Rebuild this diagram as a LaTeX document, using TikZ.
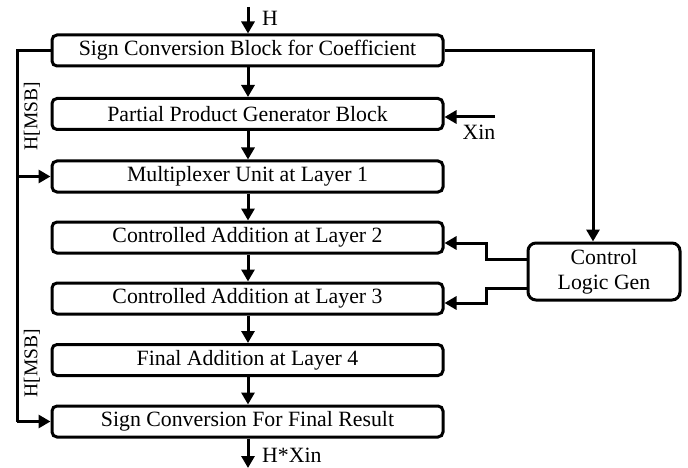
\documentclass[tikz,border=0pt]{standalone}
\usepackage{fontspec}
\setmainfont{Liberation Serif}
\usetikzlibrary{arrows.meta}
\begin{document}
\begin{tikzpicture}[x=1pt,y=-1pt,
  blk/.style={draw,line width=3pt,rounded corners=5pt,minimum width=391pt,minimum height=31pt,inner sep=0pt,font=\fontsize{21.8}{24}\selectfont},
  ctlbox/.style={draw,line width=3pt,rounded corners=8pt,minimum width=152pt,minimum height=57pt,inner sep=0pt,align=center,font=\fontsize{21.8}{25}\selectfont},
  wire/.style={line width=3pt},
  arr/.style={line width=3pt,-{Triangle[length=12pt,width=13pt]}},
  lbl/.style={font=\fontsize{21.8}{24}\selectfont,inner sep=0pt},
  slbl/.style={font=\fontsize{19.5}{22}\selectfont,inner sep=0pt}]
\useasboundingbox (0,0) rectangle (688,468);
\node[blk] (b1) at (247.5,50.5) {Sign Conversion Block for Coefficient};
\node[blk] (b2) at (247.5,114) {Partial Product Generator Block};
\node[blk] (b3) at (247.5,176.5) {Multiplexer Unit at Layer 1};
\node[blk] (b4) at (247.5,237.5) {Controlled Addition at Layer 2};
\node[blk] (b5) at (247.5,298.5) {Controlled Addition at Layer 3};
\node[blk] (b6) at (247.5,360) {Final Addition at Layer 4};
\node[blk] (b7) at (247.5,421.5) {Sign Conversion For Final Result};
\node[ctlbox] (ctl) at (604,271.5) {Control\\Logic Gen};
% input / output
\coordinate (tin) at (248,7);
\coordinate (tout) at (248,468);
\draw[arr] (tin) -- (b1.north -| tin);
\node[lbl,anchor=west] (hlab) at (262,18) {H};
\draw[arr] (b7.south -| tout) -- (tout);
\node[lbl,anchor=west] (olab) at (262,455) {H*Xin};
% vertical chain
\draw[arr] (b1.south -| tin) -- (b2.north -| tin);
\draw[arr] (b2.south -| tin) -- (b3.north -| tin);
\draw[arr] (b3.south -| tin) -- (b4.north -| tin);
\draw[arr] (b4.south -| tin) -- (b5.north -| tin);
\draw[arr] (b5.south -| tin) -- (b6.north -| tin);
\draw[arr] (b6.south -| tin) -- (b7.north -| tin);
% left feedback
\coordinate (L) at (17,50.5);
\draw[wire] (b1.west) -- (L) -- (L |- b7.west);
\draw[arr] (L |- b7.west) -- (b7.west);
\draw[arr] (L |- b3.west) -- (b3.west);
\node[slbl,rotate=90] (m1) at (32,116) {H[MSB]};
\node[slbl,rotate=90] (m2) at (32,363) {H[MSB]};
% right to control
\coordinate (R) at (593,50.5);
\draw[arr] (b1.east) -- (R) -- (R |- ctl.north);
% Xin
\coordinate (xs) at (495,117);
\draw[arr] (xs) -- (b2.east |- xs);
\node[lbl] (xlab) at (479,132) {Xin};
% control outputs
\coordinate (c1) at (486,259);
\coordinate (c2) at (486,288);
\draw[arr] (ctl.west |- c1) -- (c1) -- (486,243) -- (b4.east |- 0,243);
\draw[arr] (ctl.west |- c2) -- (c2) -- (486,303) -- (b5.east |- 0,303);
\end{tikzpicture}
\end{document}
